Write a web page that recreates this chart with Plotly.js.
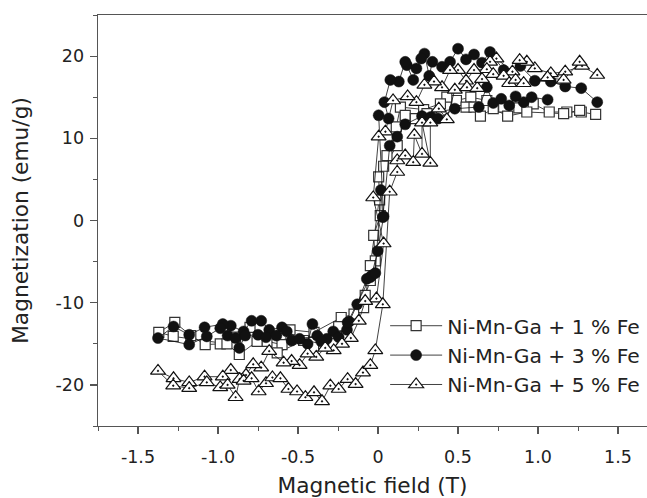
<!DOCTYPE html>
<html>
<head>
<meta charset="utf-8">
<script src="https://cdn.plot.ly/plotly-3.0.1.min.js"></script>
<style>html,body{margin:0;padding:0;background:#fff;overflow:hidden}</style>
</head>
<body>
<div id="chart" style="width:647px;height:498px"></div>
<script>
// Ni-Mn-Ga + 1 % Fe (squares)
const fe1X = [1.36, 1.27, 1.18, 1.07, 0.97, 0.88, 0.785, 0.68, 0.58, 0.49, 0.43, 0.39, 0.285, 0.14, 0.114, 0.056, 0.004, 0.014, -0.027, -0.017, -0.048, -0.08, -0.15, -0.23, -0.40, -0.55, -0.60, -0.694, -0.80, -0.89, -0.986, -1.08, -1.17, -1.27, -1.37,
              -1.28, -0.944, -0.867, -0.756, -0.63, -0.465, -0.34, -0.246, -0.09, -0.048, 0.01, 0.035, 0.12, 0.17, 0.233, 0.306, 0.55, 0.60, 0.64, 0.72, 0.81, 0.93, 1.16, 1.26];
const fe1Y = [12.9, 13.2, 13.2, 13.2, 14.2, 13.7, 13.8, 14.6, 15.0, 14.6, 15.0, 14.2, 13.5, 13.8, 11.4, 7.9, 5.3, 0.6, -1.8, -4.9, -7.3, -9.1, -11.4, -11.8, -13.6, -13.3, -15.1, -14.7, -13.0, -14.2, -15.0, -15.1, -14.0, -12.4, -13.6,
              -14.1, -15.0, -16.3, -14.7, -16.1, -14.6, -15.0, -12.9, -10.6, -5.5, 2.5, 6.6, 9.1, 12.8, 12.4, 13.0, 13.8, 13.8, 12.7, 13.6, 12.7, 13.2, 13.0, 13.4];

// Ni-Mn-Ga + 3 % Fe (filled circles)
const fe3X = [1.37, 1.27, 1.17, 1.08, 0.98, 0.89, 0.785, 0.70, 0.65, 0.60, 0.55, 0.50, 0.45, 0.40, 0.34, 0.32, 0.29, 0.27, 0.24, 0.22, 0.18, 0.17, 0.13, 0.077, 0.04, 0.066, 0.004, 0.035, -0.002, -0.04, -0.07, -0.13, -0.18, -0.194, -0.28, -0.32, -0.41, -0.44, -0.54, -0.60, -0.68, -0.73, -0.79, -0.84, -0.92, -0.97, -1.084, -1.18, -1.278, -1.375,
              -1.18, -1.07, -0.986, -0.94, -0.89, -0.867, -0.83, -0.75, -0.70, -0.635, -0.57, -0.49, -0.38, -0.355, -0.246, -0.19, -0.048, -0.017, 0.018, 0.03, 0.073, 0.12, 0.17, 0.275, 0.33, 0.375, 0.48, 0.63, 0.68, 0.72, 0.77, 0.82, 0.86, 0.91, 0.96, 1.06];
const fe3Y = [14.4, 16.1, 16.3, 16.9, 17.0, 18.8, 18.3, 20.5, 19.2, 20.2, 19.6, 20.9, 19.3, 18.7, 19.3, 17.6, 20.3, 19.7, 18.5, 17.1, 18.9, 19.3, 16.9, 17.1, 14.4, 12.4, 12.8, 0.5, -3.7, -6.7, -7.1, -10.2, -12.3, -13.3, -13.5, -14.4, -12.6, -15.0, -14.6, -13.0, -13.3, -12.2, -12.2, -13.5, -12.8, -12.6, -13.0, -13.9, -12.9, -14.3,
              -15.1, -14.1, -13.1, -14.0, -14.3, -15.5, -14.0, -13.9, -14.2, -14.0, -13.5, -14.4, -14.0, -14.7, -14.2, -12.4, -6.9, -6.4, 3.7, 0.4, 9.1, 10.2, 11.7, 12.7, 12.6, 12.4, 13.6, 13.8, 16.2, 14.3, 14.8, 14.0, 15.1, 14.4, 15.0, 14.7];

// Ni-Mn-Ga + 5 % Fe (triangles)
const fe5X = [1.37, 1.275, 1.17, 1.08, 0.98, 0.93, 0.885, 0.84, 0.74, 0.70, 0.68, 0.60, 0.55, 0.50, 0.45, 0.40, 0.35, 0.29, 0.24, 0.185, 0.094, 0.046, 0.004, -0.03, 0.035, -0.01, -0.08, -0.12, -0.17, -0.225, -0.277, -0.33, -0.386, -0.44, -0.49, -0.54, -0.59, -0.68, -0.73, -0.78, -0.825, -0.92, -0.97, -1.084, -1.18, -1.278, -1.375,
              -1.28, -1.18, -1.07, -0.986, -0.94, -0.89, -0.865, -0.84, -0.79, -0.746, -0.70, -0.66, -0.61, -0.56, -0.506, -0.454, -0.40, -0.35, -0.298, -0.246, -0.19, -0.14, -0.094, -0.048, -0.017, 0.03, 0.073, 0.12, 0.12, 0.17, 0.22, 0.227, 0.275, 0.275, 0.327, 0.327, 0.38, 0.43, 0.48, 0.556, 0.62, 0.65, 0.72, 0.785, 0.82, 0.86, 0.91, 1.06, 1.16, 1.26];
const fe5Y = [17.7, 18.8, 18.1, 17.9, 18.5, 19.3, 19.5, 18.1, 19.7, 19.3, 18.4, 18.3, 17.0, 18.3, 18.3, 16.2, 16.9, 16.5, 14.4, 15.1, 14.6, 10.8, 10.2, 2.8, -2.8, -9.5, -9.8, -12.2, -14.3, -15.0, -15.8, -15.5, -16.6, -16.2, -17.6, -17.1, -17.3, -15.9, -17.9, -17.5, -18.8, -18.2, -19.0, -19.0, -19.7, -19.2, -18.3,
              -20.1, -20.4, -19.7, -20.3, -20.0, -21.5, -19.3, -19.5, -19.2, -20.8, -19.8, -19.1, -19.2, -20.5, -20.8, -21.5, -20.9, -22.0, -20.1, -20.5, -19.3, -19.9, -18.5, -17.6, -15.8, -10.2, 3.5, 5.9, 7.3, 7.9, 7.1, 10.4, 8.1, 11.9, 7.0, 11.9, 13.6, 12.3, 15.9, 16.2, 16.1, 17.2, 17.8, 17.6, 16.7, 17.1, 16.7, 17.4, 17.1, 19.3];

const seriesNames = ['Ni-Mn-Ga + 1 % Fe', 'Ni-Mn-Ga + 3 % Fe', 'Ni-Mn-Ga + 5 % Fe'];
const xTickVals = [-1.5, -1.0, -0.5, 0, 0.5, 1.0, 1.5];
const xTickText = ['-1.5', '-1.0', '-0.5', '0', '0.5', '1.0', '1.5'];
const yTickVals = [-20, -10, 0, 10, 20];
const yTickText = ['-20', '-10', '0', '10', '20'];

const FONT = 'DejaVu Sans, Arial, sans-serif';
const lineStyle = {color: '#111', width: 0.8};

const traces = [
  {x: fe1X, y: fe1Y, name: seriesNames[0], mode: 'lines+markers', line: lineStyle,
   marker: {symbol: 'square', size: 10, color: '#fff', line: {color: '#333', width: 1.2}}},
  {x: fe3X, y: fe3Y, name: seriesNames[1], mode: 'lines+markers', line: lineStyle,
   marker: {symbol: 'circle', size: 11, color: '#111', line: {color: '#111', width: 0.5}}},
  {x: fe5X, y: fe5Y, name: seriesNames[2], mode: 'lines+markers', line: lineStyle,
   marker: {symbol: 'triangle-up-dot', size: 13, color: '#fff', line: {color: '#111', width: 1.2}}}
];

const axisCommon = {
  showgrid: false, zeroline: false, showline: true, linecolor: '#555', linewidth: 1.4,
  ticks: 'outside', ticklen: 7, tickwidth: 1.2, tickcolor: '#555',
  tickfont: {family: FONT, size: 17.5, color: '#222'}
};

const layout = {
  width: 647, height: 498,
  margin: {l: 98, r: 0, t: 15, b: 72},
  paper_bgcolor: '#fff', plot_bgcolor: '#fff',
  showlegend: true,
  xaxis: Object.assign({}, axisCommon, {
    range: [-1.75, 1.681], mirror: true,
    tickmode: 'array', tickvals: xTickVals, ticktext: xTickText,
    ticklabelstandoff: 8,
    minor: {tickmode: 'linear', tick0: 0, dtick: 0.25, ticks: 'outside', ticklen: 4, tickwidth: 1, tickcolor: '#555'},
    title: {text: 'Magnetic field (T)', font: {family: FONT, size: 21.7, color: '#222'}, standoff: 11}
  }),
  yaxis: Object.assign({}, axisCommon, {
    range: [-25, 25], mirror: false,
    tickmode: 'array', tickvals: yTickVals, ticktext: yTickText,
    ticklabelstandoff: 2,
    minor: {tickmode: 'linear', tick0: 0, dtick: 5, ticks: 'outside', ticklen: 4, tickwidth: 1, tickcolor: '#555'},
    title: {text: 'Magnetization (emu/g)', font: {family: FONT, size: 21.7, color: '#222'}, standoff: 21}
  }),
  legend: {
    x: 0.523, y: 0.1715, xanchor: 'left', yanchor: 'middle',
    bgcolor: 'rgba(0,0,0,0)', borderwidth: 0,
    font: {family: FONT, size: 20.3, color: '#222'},
    tracegroupgap: 0, itemwidth: 52
  }
};

Plotly.newPlot('chart', traces, layout, {displayModeBar: false, staticPlot: true});
</script>
</body>
</html>
